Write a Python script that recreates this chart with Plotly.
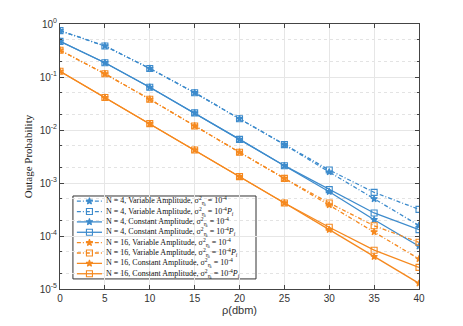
import plotly.graph_objects as go

rho = [0, 5, 10, 15, 20, 25, 30, 35, 40]

# N = 4
n4_var_fixed = [0.75, 0.385, 0.145, 0.0506, 0.0163, 0.0053, 0.00161, 0.0005, 0.000158]
n4_var_pi = [0.75, 0.385, 0.145, 0.0506, 0.0163, 0.0053, 0.00176, 0.000665, 0.000318]
n4_con_fixed = [0.47, 0.186, 0.064, 0.021, 0.00665, 0.00212, 0.000685, 0.000203, 0.000064]
n4_con_pi = [0.47, 0.186, 0.064, 0.021, 0.00665, 0.00212, 0.00075, 0.000272, 0.000132]

# N = 16
n16_var_fixed = [0.32, 0.115, 0.038, 0.0119, 0.0038, 0.00122, 0.000385, 0.000119, 0.000037]
n16_var_pi = [0.32, 0.115, 0.038, 0.0119, 0.0038, 0.00122, 0.00042, 0.000156, 0.000076]
n16_con_fixed = [0.128, 0.041, 0.0132, 0.0042, 0.00132, 0.00042, 0.000132, 0.0000407, 0.0000128]
n16_con_pi = [0.128, 0.041, 0.0132, 0.0042, 0.00132, 0.00042, 0.000146, 0.000054, 0.0000256]

ytick_vals = [1, 1e-1, 1e-2, 1e-3, 1e-4, 1e-5]
ytick_text = ["10<sup>0</sup>", "10<sup>-1</sup>", "10<sup>-2</sup>", "10<sup>-3</sup>",
              "10<sup>-4</sup>", "10<sup>-5</sup>"]

blue = "#3d8bcc"
orange = "#f5891f"
dashdot = "4px,2px,1px,2px"

sig = "σ<sup>2</sup><sub>η<sub>i</sub></sub>"
series = [
    ("N = 4, Variable Amplitude, " + sig + " = 10<sup>-4</sup>", n4_var_fixed, blue, dashdot, "star"),
    ("N = 4, Variable Amplitude, " + sig + " = 10<sup>-4</sup><i>P<sub>i</sub></i>", n4_var_pi, blue, dashdot, "square-open"),
    ("N = 4, Constant Amplitude, " + sig + " = 10<sup>-4</sup>", n4_con_fixed, blue, "solid", "star"),
    ("N = 4, Constant Amplitude, " + sig + " = 10<sup>-4</sup><i>P<sub>i</sub></i>", n4_con_pi, blue, "solid", "square-open"),
    ("N = 16, Variable Amplitude, " + sig + " = 10<sup>-4</sup>", n16_var_fixed, orange, dashdot, "star"),
    ("N = 16, Variable Amplitude, " + sig + " = 10<sup>-4</sup><i>P<sub>i</sub></i>", n16_var_pi, orange, dashdot, "square-open"),
    ("N = 16, Constant Amplitude, " + sig + " = 10<sup>-4</sup>", n16_con_fixed, orange, "solid", "star"),
    ("N = 16, Constant Amplitude, " + sig + " = 10<sup>-4</sup><i>P<sub>i</sub></i>", n16_con_pi, orange, "solid", "square-open"),
]

fig = go.Figure()
for name, vals, col, dash, sym in series:
    fig.add_trace(go.Scatter(
        x=rho, y=vals, name=name, mode="lines+markers", showlegend=False,
        line=dict(color=col, width=1.3, dash=dash),
        marker=dict(symbol=sym, size=5 if sym == "star" else 6, color=col,
                    line=dict(color=col, width=1.1)),
    ))

# compact legend box (plotly's own legend rows are too tall for this layout)
lg_x0, lg_x1, lg_top, lg_bot = 0.036, 0.546, 0.351, 0.038
row_h = (lg_top - lg_bot) / 8
fig.add_shape(type="rect", xref="paper", yref="paper", x0=lg_x0, x1=lg_x1, y0=lg_bot, y1=lg_top,
              fillcolor="white", line=dict(color="#333333", width=1), layer="between")
for i, (name, vals, col, dash, sym) in enumerate(series):
    yc = lg_top - row_h * (i + 0.5)
    fig.add_shape(type="line", xref="paper", yref="paper", x0=0.047, x1=0.117, y0=yc, y1=yc,
                  line=dict(color=col, width=1.3, dash=dash), layer="above")
    fig.add_trace(go.Scatter(
        x=[0.082], y=[yc], xaxis="x2", yaxis="y2", mode="markers", showlegend=False,
        hoverinfo="skip",
        marker=dict(symbol=sym, size=5 if sym == "star" else 6, color=col,
                    line=dict(color=col, width=1.1)),
    ))
    fig.add_annotation(x=0.123, y=yc, xref="paper", yref="paper", text=name, showarrow=False,
                       xanchor="left", yanchor="middle",
                       font=dict(family="Liberation Serif", size=8, color="#111111"))

axis_col = "#444444"
fig.update_xaxes(
    range=[0, 40], dtick=5, showline=True, linecolor=axis_col, linewidth=1, mirror="ticks",
    ticks="inside", ticklen=4, tickcolor=axis_col, showgrid=True, gridcolor="#e6e6e6",
    zeroline=False, automargin=False,
    tickfont=dict(family="Liberation Sans", size=10, color="#333333"),
    title=dict(text="ρ(dbm)", font=dict(family="Liberation Sans", size=11, color="#333333"), standoff=0),
)
fig.update_yaxes(
    type="log", range=[-5, 0], tickvals=ytick_vals, ticktext=ytick_text,
    showline=True, linecolor=axis_col, linewidth=1, mirror="ticks",
    ticks="inside", ticklen=4, tickcolor=axis_col, showgrid=True, gridcolor="#e6e6e6",
    minor=dict(showgrid=True, gridcolor="#e3e3e3", griddash="dot", ticks="inside", ticklen=2,
               tickcolor=axis_col),
    zeroline=False, automargin=False,
    tickfont=dict(family="Liberation Sans", size=10, color="#333333"),
    title=dict(text="Outage Probability", font=dict(family="Liberation Serif", size=11, color="#222222"),
               standoff=4),
)
# the page body adds an 8px offset, so margins are shifted to compensate
fig.update_layout(
    width=463, height=326, template="none",
    plot_bgcolor="white", paper_bgcolor="white",
    margin=dict(l=52, r=52, t=16, b=45),
    showlegend=False,
    xaxis2=dict(overlaying="x", range=[0, 1], visible=False),
    yaxis2=dict(overlaying="y", range=[0, 1], visible=False),
)

fig.write_html("out.html")
